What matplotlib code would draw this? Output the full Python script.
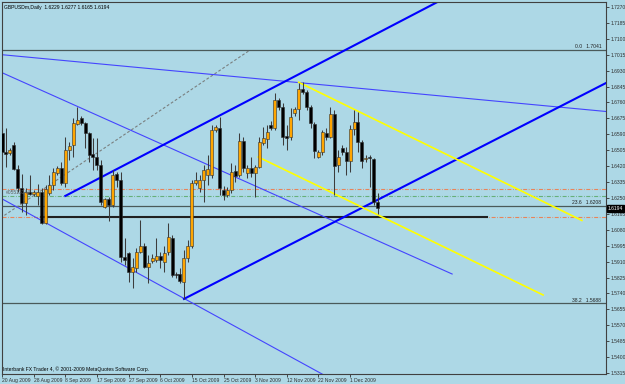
import matplotlib
matplotlib.use('Agg')
import matplotlib.pyplot as plt

#===================================================================================
#                         data
#===================================================================================
opens  = [1.6597, 1.6496, 1.6490, 1.6533, 1.6405, 1.6304, 1.6223, 1.6282, 1.6271, 1.6261,
          1.6282, 1.6117, 1.6277, 1.6320, 1.6384, 1.6410, 1.6330, 1.6506, 1.6533, 1.6645,
          1.6677, 1.6651, 1.6597, 1.6485, 1.6469, 1.6426, 1.6202, 1.6245, 1.6213, 1.6378,
          1.6346, 1.5935, 1.5956, 1.5855, 1.5876, 1.5962, 1.5994, 1.5882, 1.5914, 1.5919,
          1.5940, 1.5908, 1.5962, 1.6037, 1.5844, 1.5844, 1.5802, 1.5930, 1.5994, 1.6330,
          1.6304, 1.6346, 1.6373, 1.6373, 1.6613, 1.6624, 1.6293, 1.6266, 1.6293, 1.6394,
          1.6373, 1.6555, 1.6384, 1.6410, 1.6384, 1.6416, 1.6544, 1.6565, 1.6640, 1.6624,
          1.6773, 1.6736, 1.6581, 1.6576, 1.6704, 1.6725, 1.6832, 1.6816, 1.6736, 1.6645,
          1.6469, 1.6496, 1.6597, 1.6576, 1.6699, 1.6426, 1.6517, 1.6496, 1.6448, 1.6619,
          1.6656, 1.6549, 1.6458, 1.6469, 1.6458, 1.6229]
highs  = [1.6624, 1.6624, 1.6517, 1.6549, 1.6426, 1.6378, 1.6304, 1.6373, 1.6293, 1.6325,
          1.6304, 1.6320, 1.6373, 1.6410, 1.6421, 1.6442, 1.6576, 1.6549, 1.6677, 1.6736,
          1.6688, 1.6656, 1.6603, 1.6571, 1.6571, 1.6453, 1.6250, 1.6255, 1.6400, 1.6389,
          1.6389, 1.6037, 1.5962, 1.5930, 1.5983, 1.6133, 1.6010, 1.5946, 1.5951, 1.6037,
          1.5962, 1.5994, 1.6117, 1.6053, 1.5855, 1.5876, 1.5972, 1.6026, 1.6346, 1.6389,
          1.6373, 1.6426, 1.6480, 1.6640, 1.6640, 1.6683, 1.6314, 1.6309, 1.6437, 1.6426,
          1.6597, 1.6576, 1.6426, 1.6469, 1.6426, 1.6576, 1.6629, 1.6640, 1.6661, 1.6811,
          1.6784, 1.6757, 1.6640, 1.6731, 1.6736, 1.6864, 1.6870, 1.6827, 1.6747, 1.6656,
          1.6506, 1.6613, 1.6624, 1.6736, 1.6720, 1.6506, 1.6533, 1.6522, 1.6640, 1.6720,
          1.6709, 1.6560, 1.6480, 1.6480, 1.6464, 1.6277]
lows   = [1.6480, 1.6416, 1.6480, 1.6400, 1.6282, 1.6175, 1.6159, 1.6266, 1.6261, 1.6213,
          1.6111, 1.6111, 1.6266, 1.6293, 1.6373, 1.6320, 1.6309, 1.6453, 1.6469, 1.6640,
          1.6640, 1.6517, 1.6442, 1.6400, 1.6400, 1.6213, 1.6197, 1.6127, 1.6202, 1.6309,
          1.5908, 1.5892, 1.5802, 1.5770, 1.5855, 1.5956, 1.5876, 1.5796, 1.5903, 1.5908,
          1.5876, 1.5855, 1.5946, 1.5828, 1.5823, 1.5796, 1.5711, 1.5908, 1.5983, 1.6320,
          1.6282, 1.6229, 1.6320, 1.6357, 1.6602, 1.6266, 1.6239, 1.6255, 1.6277, 1.6336,
          1.6362, 1.6389, 1.6357, 1.6362, 1.6255, 1.6410, 1.6533, 1.6517, 1.6613, 1.6613,
          1.6720, 1.6533, 1.6506, 1.6560, 1.6688, 1.6667, 1.6805, 1.6720, 1.6624, 1.6464,
          1.6464, 1.6480, 1.6560, 1.6571, 1.6266, 1.6389, 1.6480, 1.6373, 1.6389, 1.6587,
          1.6496, 1.6410, 1.6442, 1.6309, 1.6213, 1.6165]
closes = [1.6496, 1.6485, 1.6506, 1.6405, 1.6304, 1.6223, 1.6282, 1.6271, 1.6282, 1.6282,
          1.6117, 1.6298, 1.6320, 1.6389, 1.6410, 1.6330, 1.6506, 1.6528, 1.6651, 1.6667,
          1.6651, 1.6597, 1.6480, 1.6469, 1.6426, 1.6229, 1.6245, 1.6213, 1.6373, 1.6346,
          1.5935, 1.5919, 1.5855, 1.5882, 1.5962, 1.5994, 1.5882, 1.5903, 1.5930, 1.5940,
          1.5919, 1.5956, 1.6042, 1.5839, 1.5839, 1.5807, 1.5930, 1.5994, 1.6330, 1.6346,
          1.6346, 1.6400, 1.6405, 1.6613, 1.6629, 1.6304, 1.6266, 1.6293, 1.6389, 1.6368,
          1.6555, 1.6410, 1.6410, 1.6384, 1.6416, 1.6549, 1.6571, 1.6603, 1.6624, 1.6773,
          1.6736, 1.6576, 1.6571, 1.6683, 1.6725, 1.6832, 1.6816, 1.6736, 1.6651, 1.6501,
          1.6496, 1.6603, 1.6576, 1.6699, 1.6421, 1.6469, 1.6496, 1.6448, 1.6619, 1.6656,
          1.6549, 1.6448, 1.6464, 1.6464, 1.6229, 1.6194]

date_bars   = [0, 8, 16, 24, 32, 40, 48, 56, 64, 72, 80, 88]
date_labels = ['20 Aug 2009', '28 Aug 2009', '8 Sep 2009', '17 Sep 2009', '27 Sep 2009',
               '6 Oct 2009', '15 Oct 2009', '25 Oct 2009', '3 Nov 2009', '12 Nov 2009',
               '22 Nov 2009', '1 Dec 2009']
price_ticks = [1.7270, 1.7185, 1.7100, 1.7015, 1.6930, 1.6845, 1.6760, 1.6675, 1.6590,
               1.6505, 1.6420, 1.6335, 1.6250, 1.6165, 1.6080, 1.5995, 1.5910, 1.5825,
               1.5740, 1.5655, 1.5570, 1.5485, 1.5400, 1.5315]

# trend lines: (bar0, price0, bar1, price1)
thin_lines   = [(-0.4, 1.7016, 152.7, 1.6712),
                (-0.4, 1.6923, 113.8, 1.5844),
                (-0.4, 1.6250, 85.5, 1.5257)]
thick_lines  = [(16.0, 1.6261, 113.3, 1.7332),
                (46.0, 1.5711, 160.0, 1.6943)]
yellow_lines = [(75.0, 1.6868, 146.6, 1.6130),
                (64.8, 1.6469, 136.8, 1.5732)]
fibo_trend   = (-0.4, 1.6143, 62.7, 1.7040)
fibo_levels  = [1.7041, 1.6208, 1.5688]
fibo_names   = ['0.0', '23.6', '38.2']
orange_levels = [1.6298, 1.6151]
green_levels  = [1.6263]
support_seg   = (9.9, 122.6, 1.6146)
sym_label     = '#05513144'

title_txt = 'GBPUSDm,Daily  1.6229 1.6277 1.6165 1.6194'
copy_txt  = 'Interbank FX Trader 4, \u00a9 2001-2009 MetaQuotes Software Corp.'
last_px   = closes[-1]

#===================================================================================
#                         plot
#===================================================================================
bg   = '#ADD8E6'
fnt  = 'Liberation Sans'
fs   = 3.6

fig = plt.figure(figsize=(6.25, 3.84), dpi=100, facecolor=bg)
ax  = fig.add_axes([2/625, 10/384, 604/625, 372/384], facecolor=bg)

# horizontal levels
for lv in fibo_levels:
    ax.axhline(lv, color='#4A5A5A', lw=0.9, zorder=1)
for lv in orange_levels:
    ax.axhline(lv, color='#E8845A', lw=0.8, dashes=(3.6, 1.4, 0.7, 1.4), zorder=1)
for lv in green_levels:
    ax.axhline(lv, color='#66B07A', lw=0.8, dashes=(3.6, 1.4, 0.7, 1.4), zorder=1)
ax.plot(support_seg[:2], [support_seg[2]]*2, color='#202020', lw=1.5, zorder=1)

# trend lines
b0, p0, b1, p1 = fibo_trend
ax.plot([b0, b1], [p0, p1], color='#7A8080', lw=0.8, dashes=(2.5, 1.8), zorder=1)
for b0, p0, b1, p1 in thin_lines:
    ax.plot([b0, b1], [p0, p1], color='#4444FF', lw=0.8, zorder=2)
for b0, p0, b1, p1 in thick_lines:
    ax.plot([b0, b1], [p0, p1], color='#0000FF', lw=1.5, zorder=2)
for b0, p0, b1, p1 in yellow_lines:
    ax.plot([b0, b1], [p0, p1], color='#FFFF00', lw=1.2, zorder=2)

# candles
xs = list(range(len(opens)))
ax.vlines(xs, lows, highs, color='#3C3C3C', lw=0.75, zorder=3)
for i in xs:
    o, c = opens[i], closes[i]
    up = c >= o
    h = max(abs(c - o), 0.0004)
    ax.bar(i, h, bottom=min(o, c), width=0.76,
           color='#FFA500' if up else '#000000',
           edgecolor='#303030', lw=0.4, zorder=4)

# labels inside chart
for lv, nm in zip(fibo_levels, fibo_names):
    ax.text(151.5, lv + 0.0003, nm + '   ' + '%.4f' % lv, ha='right', va='bottom',
            fontsize=fs, family=fnt, color='#202020', zorder=5)
ax.text(0.9, orange_levels[0] - 0.0003, sym_label, ha='left', va='top',
        fontsize=fs, family=fnt, color='#606060', zorder=5)
ax.text(0.004, 0.992, title_txt, transform=ax.transAxes, ha='left', va='top',
        fontsize=fs, family=fnt, color='black')
ax.text(0.002, 0.006, copy_txt, transform=ax.transAxes, ha='left', va='bottom',
        fontsize=fs, family=fnt, color='black')

# axes
ax.set_xlim(0.076, 152.7)
ax.set_ylim(1.5310, 1.72967)
ax.yaxis.tick_right()
ax.set_yticks(price_ticks)
ax.set_yticklabels(['%.4f' % t for t in price_ticks], fontsize=fs, family=fnt)
ax.set_xticks(date_bars)
ax.set_xticklabels(date_labels, fontsize=fs, family=fnt, ha='left')
ax.tick_params(axis='y', length=2, width=0.6, pad=1.2, colors='#303030')
ax.tick_params(axis='x', length=2, width=0.6, pad=1.0, colors='#303030')
for s in ax.spines.values():
    s.set_color('#404040')
    s.set_linewidth(0.8)

# last price tag
ax.text(1.003, last_px, '%.4f' % last_px, transform=ax.get_yaxis_transform(),
        ha='left', va='center', fontsize=fs, family=fnt, color='white',
        bbox=dict(boxstyle='square,pad=0.12', fc='black', ec='black'), zorder=6,
        clip_on=False)

fig.savefig('out.png', dpi=100, facecolor=bg)
